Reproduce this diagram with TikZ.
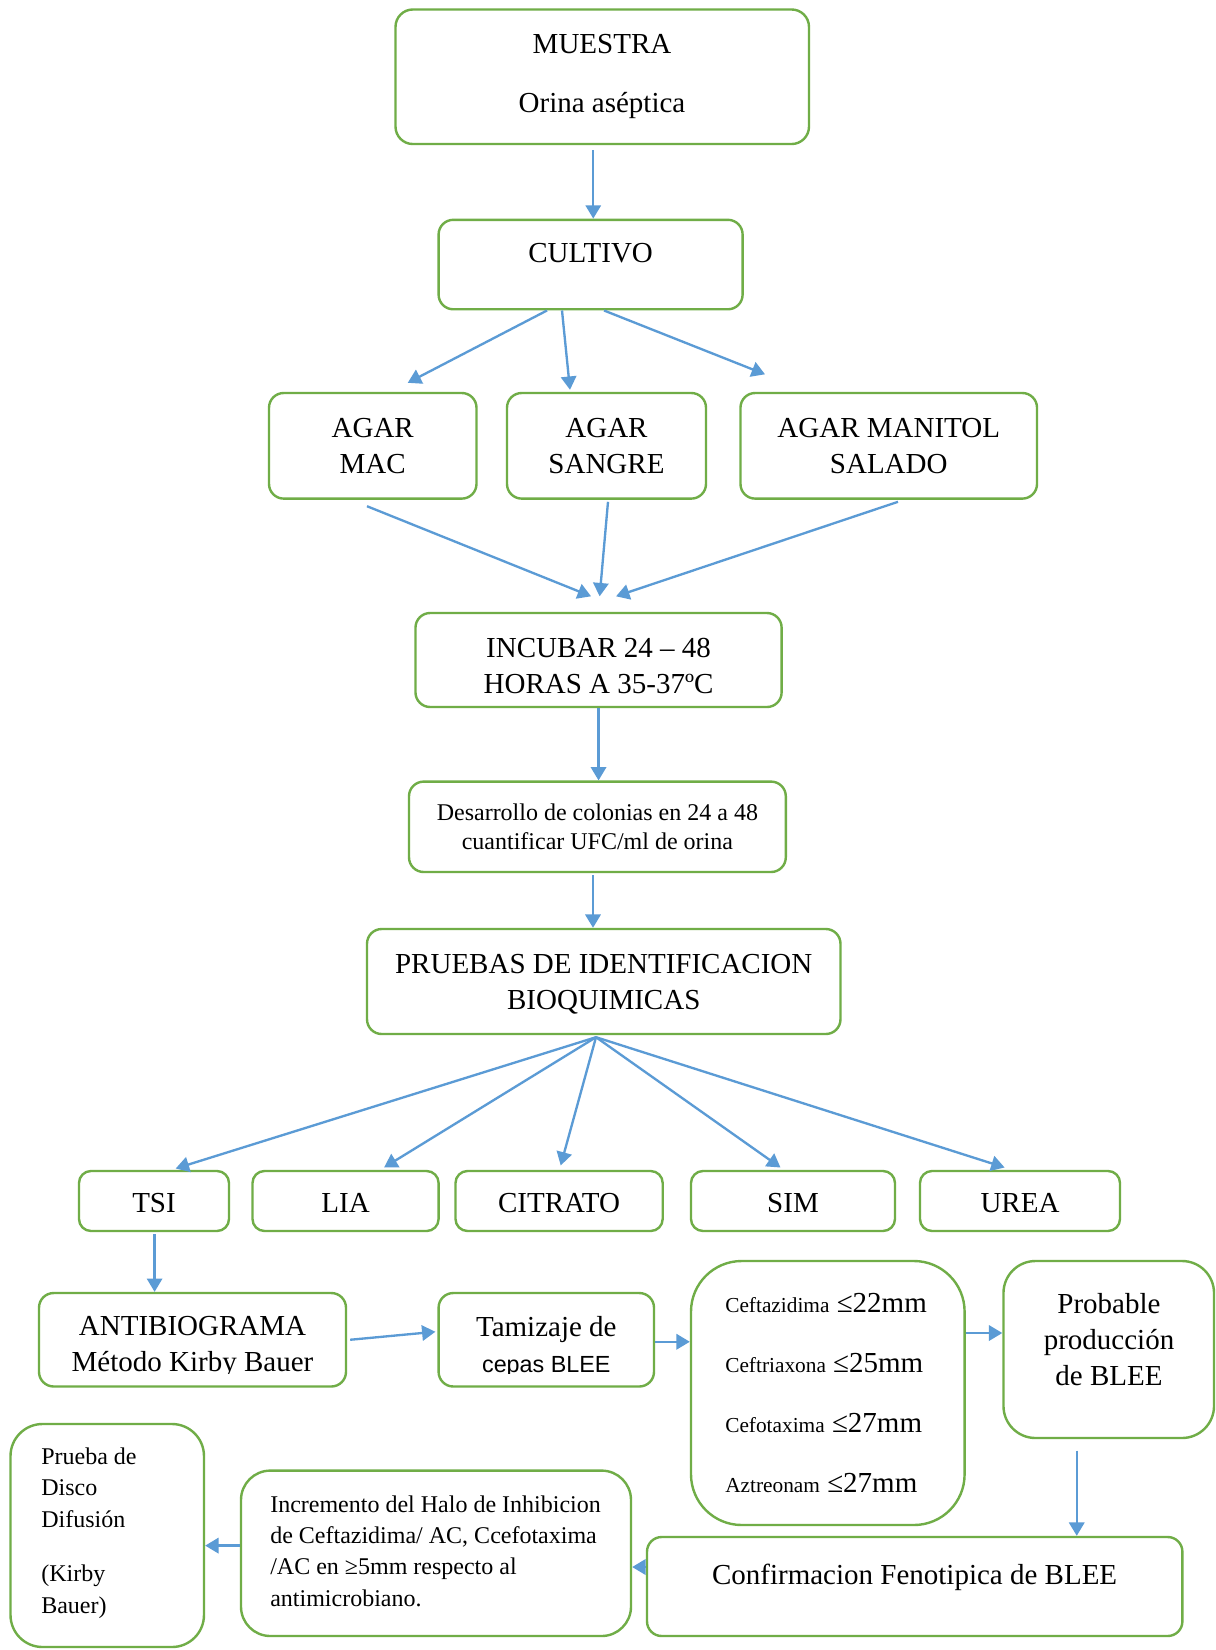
\documentclass[tikz,border=0pt]{standalone}
\usepackage{fontspec}
\setmainfont{Liberation Serif}
\newfontfamily\sansf{Liberation Sans}
\usetikzlibrary{arrows.meta,calc}
\definecolor{gbox}{HTML}{70AD47}
\definecolor{barr}{HTML}{5B9BD5}
\begin{document}
\begin{tikzpicture}[x=0.75pt,y=-0.75pt,
  box/.style={draw=gbox,line width=1.8pt,rounded corners=11pt,inner sep=0pt},
  wh/.style 2 args={minimum width=#1pt,minimum height=#2pt},
  arr/.style={draw=barr,line width=1.75pt,-{Triangle[length=10pt,width=11.5pt]}},
  big/.style={font=\fontsize{21.75}{27}\selectfont,align=center},
  mid/.style={font=\fontsize{18}{21.4}\selectfont,align=center},
  txt/.style={inner sep=0pt}]
\fill[white] (0,0) rectangle (1216,1650);
\useasboundingbox (0,0) rectangle (1216,1650);

% boxes
\node[box,rounded corners=13pt,wh={310.1}{100.9}] (muestra) at (602.25,76.75) {};
\node[txt,big] (muestraT) at (602,76.5) {MUESTRA\\[17pt]Orina aséptica};
\node[box,wh={228}{67.1}] (cultivo) at (590.6,264.55) {};
\node[txt,big] (cultivoT) at (590.6,253.5) {CULTIVO};

\node[box,wh={155.6}{79.2},big] (agarmac) at (372.75,445.8) {AGAR\\MAC};
\node[box,wh={149.25}{79.2},big] (agarsangre) at (606.5,445.8) {AGAR\\SANGRE};
\node[box,wh={222.4}{79.2},big] (agarmanitol) at (888.75,445.8) {AGAR MANITOL\\SALADO};

\node[box,wh={274.6}{70.5}] (incubar) at (598.55,660) {};
\node[txt,big] (incubarT) at (598.55,665.5) {INCUBAR 24 -- 48\\HORAS A 35-37\textordmasculine C};
\node[box,wh={282.6}{67.8},mid] (desarrollo) at (597.4,826.8) {Desarrollo de colonias en 24 a 48\\cuantificar UFC/ml de orina};
\node[box,wh={355.1}{78.75}] (pruebas) at (603.75,981.5) {};
\node[txt,big] (pruebasT) at (603.75,984.5) {PRUEBAS DE IDENTIFICACION\\BIOQUIMICAS};

\node[box,rounded corners=9pt,wh={112.5}{45}] (tsi) at (154,1201) {};
\node[box,rounded corners=9pt,wh={139.6}{45}] (lia) at (345.55,1201) {};
\node[box,rounded corners=9pt,wh={155.4}{45}] (citrato) at (559.1,1201) {};
\node[box,rounded corners=9pt,wh={153}{45}] (sim) at (793,1201) {};
\node[box,rounded corners=9pt,wh={150}{45}] (urea) at (1020,1201) {};
\node[txt,big] (tsiT) at (154,1203) {TSI};
\node[txt,big] (liaT) at (345.55,1203) {LIA};
\node[txt,big] (citratoT) at (559.1,1203) {CITRATO};
\node[txt,big] (simT) at (793,1203) {SIM};
\node[txt,big] (ureaT) at (1020,1203) {UREA};

\node[box,wh={230.25}{70.1}] (antibio) at (192.5,1339.75) {};
\node[box,wh={161.55}{70.1}] (tamizaje) at (546.3,1339.75) {};
\begin{scope}
\clip (0,1290) rectangle (700,1373);
\node[txt,big] (antibioT) at (192.5,1347.5) {ANTIBIOGRAMA\\M\'etodo Kirby Bauer};
\node[txt,big] (tamizajeT) at (546.3,1346.5) {Tamizaje de\\{\sansf\fontsize{17.5}{27}\selectfont cepas BLEE}};
\end{scope}

\node[box,rounded corners=38pt,wh={205.2}{198}] (ceft) at (827.8,1393) {};
\node[txt,anchor=west,align=left,font=\fontsize{21.75}{45}\selectfont] (ceftT) at (725,1393)
 {{\fontsize{16}{45}\selectfont Ceftazidima} ≤22mm\\
  {\fontsize{16}{45}\selectfont Ceftriaxona} ≤25mm\\
  {\fontsize{16}{45}\selectfont Cefotaxima} ≤27mm\\
  {\fontsize{16}{45}\selectfont Aztreonam} ≤27mm};

\node[box,rounded corners=24pt,wh={157.9}{132.75}] (probable) at (1108.75,1349.5) {};
\node[txt,big] (probableT) at (1109,1340) {Probable\\producción\\de BLEE};

\node[box,wh={401.55}{74.25}] (confirm) at (914.7,1586.5) {};
\node[txt,big] (confirmT) at (914.6,1577) {Confirmacion Fenotipica de BLEE};

\node[box,rounded corners=22pt,wh={292.5}{124.05}] (incremento) at (436,1553.3) {};
\node[txt,anchor=west,align=left,font=\fontsize{18}{23.5}\selectfont] (incrementoT) at (270,1551)
 {Incremento del Halo de Inhibicion\\de Ceftazidima/ AC, Ccefotaxima\\/AC en ≥5mm respecto al\\antimicrobiano.};

\node[box,rounded corners=24pt,wh={145.1}{167.25}] (prueba) at (107.25,1535.5) {};
\node[txt,anchor=west,align=left,font=\fontsize{18}{23.6}\selectfont] (pruebaT) at (41,1533)
 {Prueba de\\Disco\\Difusión\\[17.6pt](Kirby\\Bauer)};

% connectors
\draw[arr] ($(muestra.south)+(-9,5)$) coordinate (m1) -- (m1 |- cultivo.north);
\draw[arr] ($(cultivo.south)+(-43.6,0)$) -- ($(agarmac.north)+(35,-9)$);
\draw[arr] ($(cultivo.south)+(-28.6,0)$) -- ($(agarsangre.north)+(-36.5,-2)$);
\draw[arr] ($(cultivo.south)+(13.4,0)$) -- ($(agarmanitol.north)+(-123.75,-17.5)$);

\draw[arr] ($(agarmac.south)+(-5.75,6.4)$) -- ($(incubar.north)+(-7.5,-15.5)$);
\draw[arr] ($(agarsangre.south)+(1.5,2)$) -- ($(incubar.north)+(1.1,-15.5)$);
\draw[arr] ($(agarmanitol.south)+(9.25,2)$) -- ($(incubar.north)+(17.5,-15.5)$);

\draw[arr] (incubar.south) -- (incubar.south |- desarrollo.north);
\draw[arr] ($(desarrollo.south)+(-4.4,2)$) coordinate (d1) -- (d1 |- pruebas.north);

\coordinate (pb) at ($(pruebas.south)+(-7.75,2)$);
\draw[arr] (pb) -- ($(tsi.north)+(21.7,-1.3)$);
\draw[arr] (pb) -- ($(lia.north)+(38.5,-2.3)$);
\draw[arr] (pb) -- ($(citrato.north)+(1.6,-4.4)$);
\draw[arr] (pb) -- ($(sim.north)+(-12.5,-2.3)$);
\draw[arr] (pb) -- ($(urea.north)+(-15.4,-2.3)$);

\draw[arr] ($(tsi.south)+(0.6,2)$) coordinate (t0) -- (t0 |- antibio.north);
\draw[arr] ($(antibio.east)+(3,0)$) -- ($(tamizaje.west)+(-2,-8)$);
\draw[arr] ($(tamizaje.east)+(0,2)$) coordinate (t1) -- (t1 -| ceft.west);
\draw[arr] ($(ceft.east)+(0,-60)$) coordinate (c1) -- (c1 -| probable.west);
\draw[arr] ($(probable.south)+(-32,11.5)$) coordinate (p1) -- (p1 |- confirm.north);
\draw[arr] ($(confirm.west)+(0,-19.5)$) coordinate (c2) -- (c2 -| incremento.east);
\draw[arr] ($(incremento.west)+(0,-7.7)$) coordinate (i1) -- (i1 -| prueba.east);
\end{tikzpicture}
\end{document}
